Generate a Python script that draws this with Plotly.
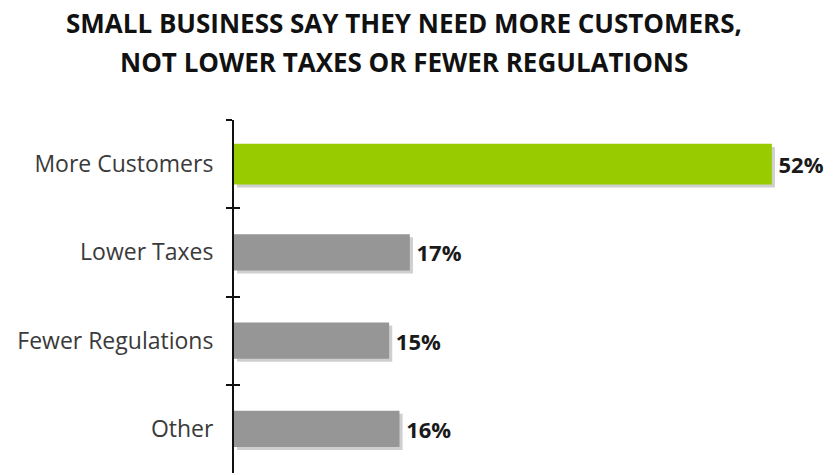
import plotly.graph_objects as go

# Survey answers: what small businesses say they need most
categories = ["More Customers", "Lower Taxes", "Fewer Regulations", "Other"]
shares = [52, 17, 15, 16]
title_lines = ["SMALL BUSINESS SAY THEY NEED MORE CUSTOMERS,",
               "NOT LOWER TAXES OR FEWER REGULATIONS"]

bar_colors = ["#99CC00", "#969696", "#969696", "#969696"]
bar_widths = [0.46, 0.41, 0.41, 0.41]
FONT = "Open Sans"

fig = go.Figure()

# soft drop shadow behind each bar (lower layer, slightly shifted)
fig.add_trace(go.Bar(
    y=categories, x=shares, orientation="h",
    base=0.3, width=bar_widths,
    offset=[-w / 2 + 0.035 for w in bar_widths],
    marker=dict(color="#cfcfcf", line=dict(width=0)),
    hoverinfo="skip", showlegend=False,
    yaxis="y", xaxis="x",
))

# the bars themselves, with value labels
fig.add_trace(go.Bar(
    y=categories, x=shares, orientation="h",
    width=bar_widths,
    offset=[-w / 2 for w in bar_widths],
    marker=dict(color=bar_colors, line=dict(width=0)),
    text=[f"\u2009{v}%" for v in shares],
    textposition="outside",
    textfont=dict(family=FONT, size=22, color="#1a1a1a", weight="bold"),
    cliponaxis=False,
    showlegend=False,
    yaxis="y2", xaxis="x",
))

axis_common = dict(
    type="category",
    categoryorder="array", categoryarray=categories,
    range=[3.5, -0.5],
    tickson="boundaries",
    showline=True, linecolor="#111111", linewidth=2,
    tickcolor="#111111", tickwidth=2, ticklen=6,
    showgrid=False, zeroline=False,
)

# two-line heading, placed line by line for wider leading
for line, ypos in zip(title_lines, [1.274, 1.164]):
    fig.add_annotation(
        text=line, xref="paper", yref="paper", x=0.282, y=ypos,
        xanchor="center", yanchor="middle", showarrow=False,
        font=dict(family=FONT, size=26, color="#111111", weight="bold"),
    )

fig.update_layout(
    width=837, height=475,
    margin=dict(l=234, r=0, t=120, b=2),
    paper_bgcolor="white", plot_bgcolor="white",
    barmode="overlay",
    xaxis=dict(range=[0, 58.3], visible=False, fixedrange=True),
    yaxis=dict(
        **axis_common, ticks="outside", showticklabels=True,
        ticklabelstandoff=14,
        tickfont=dict(family=FONT, size=23, color="#3a3a3a"),
    ),
    yaxis2=dict(
        **axis_common, ticks="inside", showticklabels=False,
        overlaying="y", side="left",
    ),
)

fig.write_html("out.html")
